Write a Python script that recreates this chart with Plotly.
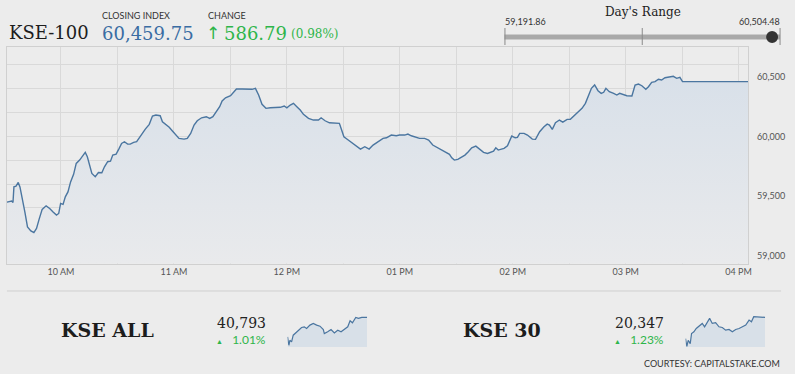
import pandas as pd
import plotly.graph_objects as go

# ---------------- data ----------------
# minutes after 09:00 and KSE-100 index level
kse100_minutes = [31.3, 33.8, 34.5, 35.0, 36.1, 37.3, 38.2, 39.4, 40.8, 42.2, 44.0, 45.6, 47.0, 48.4, 50.0,
                  52.1, 54.0, 55.8, 57.6, 58.8, 59.8, 61.1, 62.3, 63.7, 65.1, 66.7, 68.1, 69.9, 71.6, 72.9,
                  74.0, 75.2, 76.4, 78.2, 79.9, 81.7, 83.1, 84.8, 86.3, 87.5, 89.3, 90.7, 92.2, 93.7, 95.4,
                  96.8, 98.6, 100.2, 102.5, 104.8, 106.9, 108.6, 110.4, 112.7, 113.9, 115.7, 117.5, 119.2,
                  121.0, 122.7, 125.4, 127.1, 128.9, 130.7, 132.4, 134.7, 137.2, 139.0, 140.7, 142.5, 144.3,
                  145.6, 147.4, 150.1, 151.8, 153.2, 156.2, 158.8, 161.5, 163.3, 165.0, 166.8, 168.9, 171.2,
                  173.9, 176.5, 178.6, 180.0, 181.8, 183.5, 185.3, 187.1, 188.8, 191.5, 194.1, 196.8, 198.2,
                  200.3, 202.6, 205.6, 207.9, 209.1, 210.3, 212.6, 215.2, 217.0, 219.1, 221.4, 223.7, 225.8,
                  228.5, 231.1, 232.9, 235.5, 238.1, 239.9, 242.6, 244.3, 246.1, 248.2, 250.5, 253.2, 255.3,
                  257.5, 260.2, 262.3, 264.6, 266.4, 267.6, 269.0, 270.8, 272.5, 274.6, 276.4, 278.2, 280.4,
                  282.2, 284.5, 286.6, 288.7, 289.8, 291.0, 292.3, 294.0, 295.4, 297.2, 298.1, 299.5, 301.3,
                  302.5, 303.7, 306.0, 307.8, 310.4, 312.1, 314.3, 316.6, 318.3, 319.5, 321.0, 322.7, 324.8,
                  326.6, 328.9, 330.6, 332.4, 334.7, 336.8, 338.6, 340.0, 341.8, 343.5, 345.3, 347.0, 348.3,
                  349.5, 351.3, 353.6, 355.3, 356.8, 358.4, 360.6, 363.3, 365.0, 366.8, 368.6, 370.7, 372.1,
                  373.8, 375.6, 377.4, 379.1, 380.9, 383.5, 385.3, 387.1, 388.8, 390.2, 425.1]
kse100_values = [59448, 59457, 59445, 59576, 59582, 59613, 59576, 59492, 59366, 59240, 59207, 59192, 59227,
                 59305, 59387, 59417, 59395, 59366, 59339, 59353, 59437, 59429, 59492, 59534, 59618, 59681,
                 59773, 59801, 59843, 59866, 59829, 59759, 59689, 59661, 59697, 59694, 59745, 59787, 59792,
                 59843, 59851, 59893, 59941, 59955, 59935, 59935, 59950, 59955, 60011, 60061, 60101, 60171,
                 60179, 60173, 60123, 60101, 60076, 60045, 60011, 59983, 59977, 59983, 60025, 60095, 60131,
                 60156, 60165, 60151, 60165, 60207, 60249, 60297, 60324, 60341, 60370, 60397, 60397, 60397,
                 60395, 60403, 60347, 60269, 60235, 60240, 60244, 60244, 60255, 60240, 60263, 60277, 60249,
                 60221, 60185, 60151, 60137, 60137, 60156, 60131, 60114, 60114, 60109, 60053, 59997, 59969,
                 59941, 59918, 59893, 59913, 59893, 59927, 59958, 59983, 59988, 60011, 60005, 60011, 60011,
                 60019, 60005, 59994, 59983, 59983, 59969, 59927, 59904, 59879, 59866, 59849, 59820, 59801,
                 59807, 59820, 59843, 59871, 59904, 59918, 59893, 59866, 59857, 59866, 59876, 59904, 59885,
                 59893, 59899, 59921, 59955, 60003, 59988, 59992, 60025, 60025, 60011, 59977, 59975, 60039,
                 60081, 60103, 60095, 60059, 60114, 60137, 60120, 60143, 60143, 60171, 60198, 60235, 60277,
                 60339, 60403, 60431, 60383, 60361, 60370, 60403, 60375, 60361, 60347, 60361, 60353, 60341,
                 60339, 60431, 60439, 60425, 60395, 60417, 60454, 60459, 60479, 60473, 60492, 60501, 60504,
                 60487, 60496, 60459.75, 60459.75]

kseall_minutes = [31, 37.6, 42.6, 50.9, 59.1, 72.4, 84, 100.5, 113.8, 125.3, 141.9, 158.4, 175, 191.5, 208.1,
                  213, 229.6, 246.2, 262.7, 279.3, 295.8, 312.4, 328.9, 340.5, 352.1, 368.6, 381.9, 398.4, 424.9]
kseall_values = [40521, 40404, 40474, 40451, 40545, 40577, 40615, 40653, 40662, 40639, 40686, 40709, 40686,
                 40671, 40624, 40568, 40592, 40624, 40577, 40615, 40592, 40624, 40662, 40747, 40718, 40794,
                 40780, 40794, 40793]
kse30_minutes = [31, 37.6, 44.2, 54.2, 60.8, 72.4, 84, 100.5, 113.8, 125.3, 141.9, 150.2, 163.4, 180, 196.5,
                 213, 229.6, 246.2, 262.7, 279.3, 295.8, 312.4, 328.9, 345.5, 357.1, 368.6, 385.2, 406.7, 424.9]
kse30_values = [20170, 20106, 20156, 20128, 20212, 20226, 20254, 20274, 20296, 20268, 20310, 20338, 20296,
                20302, 20268, 20262, 20240, 20246, 20226, 20246, 20254, 20268, 20282, 20324, 20310, 20352,
                20352, 20346, 20346]

y_ticks = [59000, 59500, 60000, 60500]
closing_index = 60459.75
change_points = 586.79
change_pct = 0.98
day_low = 59191.86
day_high = 60504.48
kseall_close, kseall_pct = 40793, 1.01
kse30_close, kse30_pct = 20347, 1.23

# ---------------- helpers ----------------
W, H = 795, 374
BG = "#ececec"
base = pd.Timestamp("2021-01-01 09:00:00")


def to_time(mins):
    return [base + pd.Timedelta(minutes=m) for m in mins]


def px(x):
    return x / W


def py(y):
    return 1 - y / H


fig = go.Figure()

# main area chart
fig.add_trace(go.Scatter(
    x=to_time(kse100_minutes), y=kse100_values, mode="lines",
    line=dict(color="#4b76a0", width=1.4),
    fill="tozeroy",
    fillgradient=dict(type="vertical", start=58930, stop=60520,
                      colorscale=[[0, "#e9eaec"], [1, "#d8e0e9"]]),
    hoverinfo="skip", xaxis="x", yaxis="y"))

# sparklines
fig.add_trace(go.Scatter(
    x=to_time(kseall_minutes), y=kseall_values, mode="lines",
    line=dict(color="#4b76a0", width=1.2), fill="tozeroy", fillcolor="#d8e0e8",
    hoverinfo="skip", xaxis="x2", yaxis="y2"))
fig.add_trace(go.Scatter(
    x=to_time(kse30_minutes), y=kse30_values, mode="lines",
    line=dict(color="#4b76a0", width=1.2), fill="tozeroy", fillcolor="#d8e0e8",
    hoverinfo="skip", xaxis="x3", yaxis="y3"))

# y-range derived from the chart's pixel scale
ymin, ymax = 58933, 60750
minor_grid = list(range(59000, 60800, 200))

fig.update_layout(
    width=W, height=H, margin=dict(l=0, r=0, t=0, b=0),
    paper_bgcolor=BG, plot_bgcolor=BG, showlegend=False,
    xaxis=dict(
        domain=[px(7), px(752)], anchor="y", type="date",
        range=[base + pd.Timedelta(minutes=31.3), base + pd.Timedelta(minutes=425.1)],
        tick0=base + pd.Timedelta(hours=1), dtick=3600000, tickformat="%I %p",
        showgrid=True, gridcolor="#d9d9d9", gridwidth=1,
        minor=dict(dtick=1800000, tick0=base + pd.Timedelta(minutes=30), showgrid=True,
                   gridcolor="#d9d9d9", gridwidth=1),
        showline=True, linecolor="#d0d0d0", linewidth=1, mirror=True,
        ticks="", tickfont=dict(family="Lato", size=9, color="#555"),
        zeroline=False, fixedrange=True),
    yaxis=dict(
        domain=[py(263.5), py(47)], anchor="x", side="right", range=[ymin, ymax],
        tickmode="array", tickvals=y_ticks, tickformat=",",
        showgrid=False,
        minor=dict(tickmode="array", tickvals=minor_grid, showgrid=True,
                   gridcolor="#d9d9d9", gridwidth=1, ticks=""),
        showline=True, linecolor="#d0d0d0", linewidth=1, mirror=True,
        ticks="", ticklabelstandoff=6,
        tickfont=dict(family="Lato", size=9, color="#555"),
        zeroline=False, fixedrange=True),
    xaxis2=dict(domain=[px(289), px(369)], anchor="y2", visible=False,
                range=[base + pd.Timedelta(minutes=31), base + pd.Timedelta(minutes=424.9)]),
    yaxis2=dict(domain=[py(347), py(315)], anchor="x2", visible=False, range=[40380, 40827]),
    xaxis3=dict(domain=[px(689), px(769)], anchor="y3", visible=False,
                range=[base + pd.Timedelta(minutes=31), base + pd.Timedelta(minutes=424.9)]),
    yaxis3=dict(domain=[py(347), py(315)], anchor="x3", visible=False, range=[20100, 20366]),
)

ann = []


def text(x, y, s, size, color, family="Lato", xanchor="left", yanchor="middle"):
    ann.append(dict(x=px(x), y=py(y), xref="paper", yref="paper", text=s, showarrow=False,
                    xanchor=xanchor, yanchor=yanchor,
                    font=dict(family=family, size=size, color=color)))


SERIF = "DejaVu Serif"
GREEN = "#2eb54a"
# header
text(7, 32, "KSE-100", 18, "#1d1d1d", SERIF)
text(101, 16, "CLOSING INDEX", 9, "#333")
text(101, 33, f"{closing_index:,.2f}", 18, "#3a6ca3", SERIF)
text(207, 16, "CHANGE", 9, "#333")
text(205, 33, "\u2191", 17, GREEN, "DejaVu Sans")
text(223, 33, f"{change_points:.2f}", 18, GREEN, SERIF)
text(290, 34, f"({change_pct:.2f}%)", 12, GREEN, SERIF)

# day's range
text(646, 12, "Day's Range", 12, "#222", SERIF, xanchor="center")
text(506, 21, f"{day_low:,.2f}", 9, "#333")
text(786, 21, f"{day_high:,.2f}", 9, "#333", xanchor="right")

shapes = [
    dict(type="line", xref="paper", yref="paper", x0=px(507), x1=px(784), y0=py(37), y1=py(37),
         line=dict(color="#a9a9a9", width=5)),
    dict(type="line", xref="paper", yref="paper", x0=px(507.5), x1=px(507.5), y0=py(28), y1=py(45),
         line=dict(color="#8a8a8a", width=1)),
    dict(type="line", xref="paper", yref="paper", x0=px(645.5), x1=px(645.5), y0=py(28), y1=py(45),
         line=dict(color="#8a8a8a", width=1)),
    dict(type="line", xref="paper", yref="paper", x0=px(784), x1=px(784), y0=py(28), y1=py(45),
         line=dict(color="#8a8a8a", width=1)),
    dict(type="circle", xref="paper", yref="paper", x0=px(770), x1=px(782), y0=py(43), y1=py(31),
         fillcolor="#333333", line=dict(color="#333333", width=0)),
    # separator above the summary row
    dict(type="line", xref="paper", yref="paper", x0=px(7), x1=px(785), y0=py(291), y1=py(291),
         line=dict(color="#cfcfcf", width=1)),
]

# summary row
text(108, 330, "<b>KSE ALL</b>", 19, "#1d1d1d", SERIF, xanchor="center")
text(269, 323, f"{kseall_close:,}", 14, "#222", SERIF, xanchor="right")
text(269, 339, f"<span style='font-size:7px'>\u25b2</span>&nbsp;&nbsp;&nbsp;{kseall_pct:.2f}%", 12, GREEN,
     xanchor="right")
text(505, 330, "<b>KSE 30</b>", 19, "#1d1d1d", SERIF, xanchor="center")
text(669, 323, f"{kse30_close:,}", 14, "#222", SERIF, xanchor="right")
text(669, 339, f"<span style='font-size:7px'>\u25b2</span>&nbsp;&nbsp;&nbsp;{kse30_pct:.2f}%", 12, GREEN,
     xanchor="right")
text(786, 363, "COURTESY: CAPITALSTAKE.COM", 9, "#333", xanchor="right")

fig.update_layout(annotations=ann, shapes=shapes)

fig.write_html("out.html", config={"displayModeBar": False},
               post_script="document.body.style.margin='0';document.body.style.overflow='hidden';")
